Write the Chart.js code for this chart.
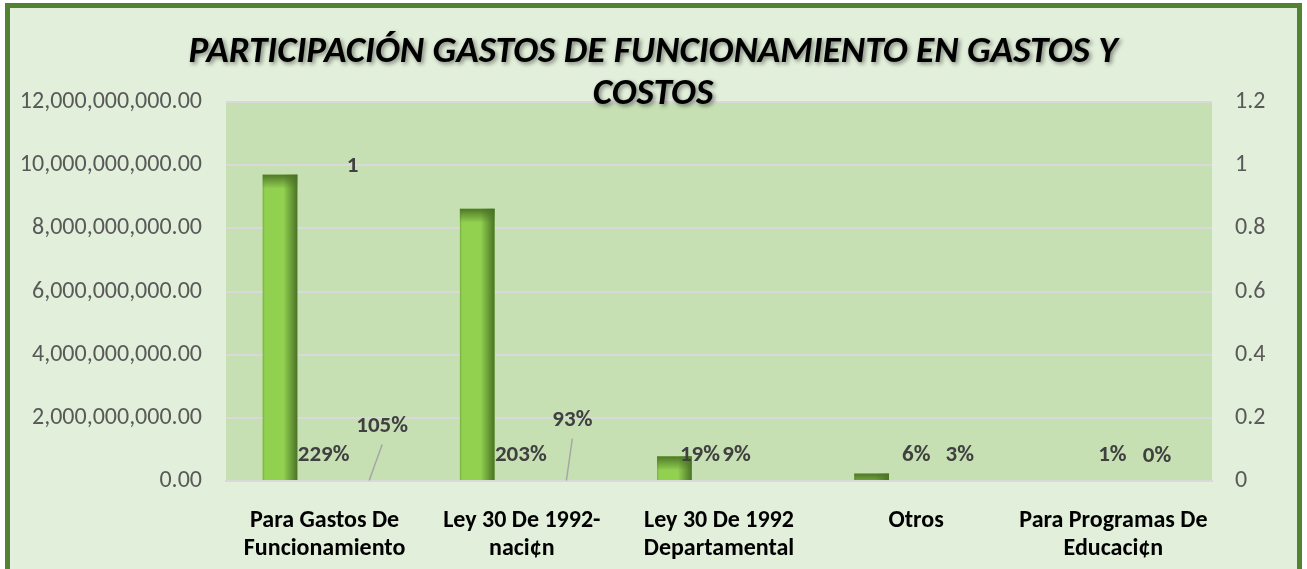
<!DOCTYPE html>
<html>
<head>
<meta charset="utf-8">
<script src="https://cdn.jsdelivr.net/npm/chart.js@4.4.1/dist/chart.umd.min.js"></script>
<style>
  html, body { margin: 0; padding: 0; background: #ffffff; }
  canvas { display: block; }
</style>
</head>
<body>
<canvas id="gastosChart" width="1307" height="569"></canvas>
<script>
// datos
const categorias = [
    ['Para Gastos De', 'Funcionamiento'],
    ['Ley 30 De 1992-', 'naci¢n'],
    ['Ley 30 De 1992', 'Departamental'],
    'Otros',
    ['Para Programas De', 'Educaci¢n']
];
const valores = [9700000000, 8620000000, 780000000, 235000000, 30000000];
const partGastos = [2.29, 2.03, 0.19, 0.06, 0.01];
const partCostos = [1.05, 0.93, 0.09, 0.03, 0.00];
const marcaTotal = [1, null, null, null, null];

const ticksIzq = [0, 2e9, 4e9, 6e9, 8e9, 10e9, 12e9];
const ticksDer = [0, 0.2, 0.4, 0.6, 0.8, 1, 1.2];

// desplazamientos de etiquetas (px) respecto a su barra
const offGastos = [[-1, -25], [-1, -25], [-19, -25], [0, -25], [-1, -25]];
const offCostos = [[13, -54], [6, -60], [-27, -25], [-1, -25], [-1, -25]];
const conGuia = [true, true, false, false, false];

const FONT = 'Carlito, Lato, sans-serif';
const VERDE_BORDE = '#548235';
const FONDO = '#E2EFDA';
const FONDO_AREA = '#C6E0B4';

const fondoPlugin = {
    id: 'fondo',
    beforeDraw(chart) {
        const { ctx, chartArea: a } = chart;
        ctx.save();
        ctx.fillStyle = '#ffffff';
        ctx.fillRect(0, 0, chart.width, chart.height);
        ctx.fillStyle = FONDO;
        ctx.fillRect(5, 3, 1297, 570);
        ctx.fillStyle = FONDO_AREA;
        ctx.fillRect(a.left, a.top, a.right - a.left, a.bottom - a.top);
        ctx.restore();
    },
    afterDraw(chart) {
        const ctx = chart.ctx;
        ctx.save();
        ctx.strokeStyle = VERDE_BORDE;
        ctx.lineWidth = 5;
        ctx.strokeRect(7.5, 5.5, 1292, 570);

        // título con sombra
        ctx.font = 'italic bold 36px ' + FONT;
        ctx.textAlign = 'center';
        ctx.textBaseline = 'alphabetic';
        const l1 = 'PARTICIPACIÓN GASTOS DE FUNCIONAMIENTO EN GASTOS Y';
        const l2 = 'COSTOS';
        const w = ctx.measureText(l1).width;
        const sx = 929 / w;
        ctx.translate(653, 0);
        ctx.scale(sx, 1);
        ctx.shadowColor = 'rgba(0,0,0,0.45)';
        ctx.shadowBlur = 4;
        ctx.shadowOffsetX = 2;
        ctx.shadowOffsetY = 2;
        ctx.fillStyle = '#000000';
        ctx.fillText(l1, 0, 62);
        ctx.fillText(l2, 0, 104);
        ctx.restore();
    }
};

const barrasPlugin = {
    id: 'barras',
    afterDatasetDraw(chart, args) {
        if (args.index !== 0) return;
        const ctx = chart.ctx;
        ctx.save();
        args.meta.data.forEach(bar => {
            const left = bar.x - bar.width / 2;
            const top = bar.y;
            const h = bar.base - bar.y;
            if (h <= 0) return;
            const gx = ctx.createLinearGradient(left, 0, left + bar.width, 0);
            gx.addColorStop(0, 'rgba(70,110,35,0.35)');
            gx.addColorStop(0.06, 'rgba(70,110,35,0)');
            gx.addColorStop(0.6, 'rgba(70,110,35,0)');
            gx.addColorStop(1, 'rgba(70,110,35,0.95)');
            ctx.fillStyle = gx;
            ctx.fillRect(left, top, bar.width, h);
            const gy = ctx.createLinearGradient(0, top, 0, top + 14);
            gy.addColorStop(0, 'rgba(75,115,38,0.95)');
            gy.addColorStop(1, 'rgba(75,115,38,0)');
            ctx.fillStyle = gy;
            ctx.fillRect(left, top, bar.width, Math.min(14, h));
        });
        ctx.restore();
    }
};

const etiquetasPlugin = {
    id: 'etiquetas',
    afterDatasetsDraw(chart) {
        const ctx = chart.ctx;
        ctx.save();
        ctx.font = 'bold 23px ' + FONT;
        ctx.fillStyle = '#404040';
        ctx.textAlign = 'center';
        ctx.textBaseline = 'middle';

        const pct = v => Math.round(v * 100) + '%';
        const mGastos = chart.getDatasetMeta(1).data;
        const mCostos = chart.getDatasetMeta(2).data;

        partGastos.forEach((v, i) => {
            const el = mGastos[i];
            ctx.fillText(pct(v), el.x + offGastos[i][0], el.base + offGastos[i][1]);
        });
        partCostos.forEach((v, i) => {
            const el = mCostos[i];
            const x = el.x + offCostos[i][0];
            const y = el.base + offCostos[i][1];
            ctx.fillText(pct(v), x, y);
            if (conGuia[i]) {
                ctx.strokeStyle = '#A6A6A6';
                ctx.lineWidth = 1.5;
                ctx.beginPath();
                ctx.moveTo(x, y + 18);
                ctx.lineTo(el.x, el.base);
                ctx.stroke();
            }
        });

        const mTotal = chart.getDatasetMeta(3).data;
        marcaTotal.forEach((v, i) => {
            if (v === null) return;
            const el = mTotal[i];
            ctx.fillText(String(v), el.x + 28, el.y + 1);
        });
        ctx.restore();
    }
};

function initGastosChart() {
    const ctx = document.getElementById('gastosChart').getContext('2d');
    new Chart(ctx, {
        type: 'bar',
        data: {
            labels: categorias,
            datasets: [
                {
                    label: 'Valor',
                    data: valores,
                    yAxisID: 'y',
                    backgroundColor: '#92D050',
                    borderWidth: 0
                },
                {
                    label: 'Participación gastos',
                    data: partGastos,
                    yAxisID: 'y1',
                    backgroundColor: 'rgba(0,0,0,0)'
                },
                {
                    label: 'Participación costos',
                    data: partCostos,
                    yAxisID: 'y1',
                    backgroundColor: 'rgba(0,0,0,0)'
                },
                {
                    type: 'line',
                    label: 'Total',
                    data: marcaTotal,
                    yAxisID: 'y1',
                    showLine: false,
                    pointRadius: 0
                }
            ]
        },
        options: {
            responsive: false,
            animation: false,
            categoryPercentage: 0.678,
            barPercentage: 0.778,
            layout: { padding: { top: 102, left: 0, right: 0, bottom: 0 } },
            plugins: {
                legend: { display: false },
                title: { display: false },
                tooltip: { enabled: false }
            },
            scales: {
                x: {
                    grid: { display: false },
                    border: { color: '#D9D9D9', width: 2 },
                    ticks: {
                        color: '#000000',
                        font: { family: FONT, size: 24, weight: 'bold', lineHeight: 1.167 },
                        padding: 18,
                        maxRotation: 0,
                        autoSkip: false
                    },
                    afterFit: s => { s.height = 88; }
                },
                y: {
                    position: 'left',
                    min: 0,
                    max: 12e9,
                    afterBuildTicks: s => { s.ticks = ticksIzq.map(v => ({ value: v })); },
                    grid: { color: '#D9D9D9', lineWidth: 2, drawTicks: false },
                    border: { display: false },
                    ticks: {
                        color: '#595959',
                        font: { family: FONT, size: 24 },
                        padding: 24,
                        callback: v => Number(v).toLocaleString('en-US', { minimumFractionDigits: 2, maximumFractionDigits: 2 })
                    },
                    afterFit: s => { s.width = 226; }
                },
                y1: {
                    position: 'right',
                    min: 0,
                    max: 1.2,
                    afterBuildTicks: s => { s.ticks = ticksDer.map(v => ({ value: v })); },
                    grid: { drawOnChartArea: false, drawTicks: false },
                    border: { display: false },
                    ticks: {
                        color: '#595959',
                        font: { family: FONT, size: 24 },
                        padding: 23,
                        callback: v => String(Math.round(v * 10) / 10)
                    },
                    afterFit: s => { s.width = 95; }
                }
            }
        },
        plugins: [fondoPlugin, barrasPlugin, etiquetasPlugin]
    });
}

initGastosChart();
</script>
</body>
</html>
